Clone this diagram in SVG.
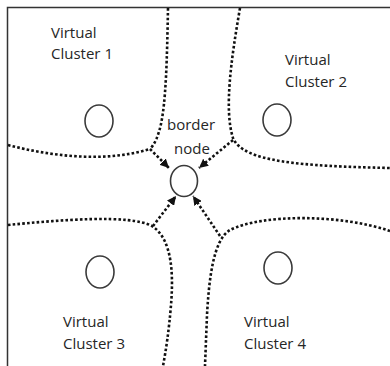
<svg xmlns="http://www.w3.org/2000/svg" width="390" height="366" viewBox="0 0 390 366">
<defs>
<style>
.lbl{font-family:"Open Sans","Liberation Sans",sans-serif;font-size:15px;fill:#262626}
.nd{fill:#fff;stroke:#3a3a3a;stroke-width:1.6}
.dot{fill:none;stroke:#111;stroke-width:2.6;stroke-dasharray:2.6 2.2}
.arr{fill:none;stroke:#111;stroke-width:2.6;stroke-dasharray:2.6 2.2;marker-end:url(#ah)}
</style>
<marker id="ah" viewBox="0 0 10 10" refX="10" refY="5" markerUnits="userSpaceOnUse" markerWidth="9" markerHeight="9" orient="auto">
<path d="M0,0 L10,5 L0,10 z" fill="#111"/>
</marker>
</defs>
<rect width="390" height="366" fill="#fff"/>
<path d="M7.5,366 V7.5 H390" fill="none" stroke="#333" stroke-width="1.5"/>
<g id="connectors">
<path class="dot" d="M168,8 C167,60 166,100 161,124 Q157,142 150,149"/>
<path class="dot" d="M8,145 C50,156 105,163 150,149"/>
<path class="dot" d="M240,8 C231,60 224,110 233,138 C243,162 300,166 390,168"/>
<path class="dot" d="M8,225 C60,220 130,214 152,226 C174,240 173,280 171,305 C169,330 166,350 163,366"/>
<path class="dot" d="M390,231 C340,214 262,214 230,230 C213,240 209,280 207,315 L205,366"/>
<path class="arr" d="M150,149 L169,168"/>
<path class="arr" d="M233,140 L199,168"/>
<path class="arr" d="M153,226 L176,196"/>
<path class="arr" d="M220,236 L193,196"/>
</g>
<g id="cluster1">
<ellipse class="nd" cx="99" cy="121" rx="14" ry="16"/>
<text class="lbl" x="51" y="37.5">Virtual</text>
<text class="lbl" x="51" y="58.5">Cluster 1</text>
</g>
<g id="cluster2">
<ellipse class="nd" cx="277" cy="120" rx="14" ry="16"/>
<text class="lbl" x="285" y="65">Virtual</text>
<text class="lbl" x="285" y="86.5">Cluster 2</text>
</g>
<g id="cluster3">
<ellipse class="nd" cx="100" cy="272" rx="14" ry="16"/>
<text class="lbl" x="63" y="327">Virtual</text>
<text class="lbl" x="63" y="348.5">Cluster 3</text>
</g>
<g id="cluster4">
<ellipse class="nd" cx="278" cy="268" rx="14" ry="16"/>
<text class="lbl" x="244" y="327">Virtual</text>
<text class="lbl" x="244" y="348.5">Cluster 4</text>
</g>
<g id="border-node">
<ellipse class="nd" cx="184" cy="181" rx="13.5" ry="15.5"/>
<text class="lbl" x="191" y="130" text-anchor="middle">border</text>
<text class="lbl" x="192" y="154" text-anchor="middle">node</text>
</g>
</svg>
